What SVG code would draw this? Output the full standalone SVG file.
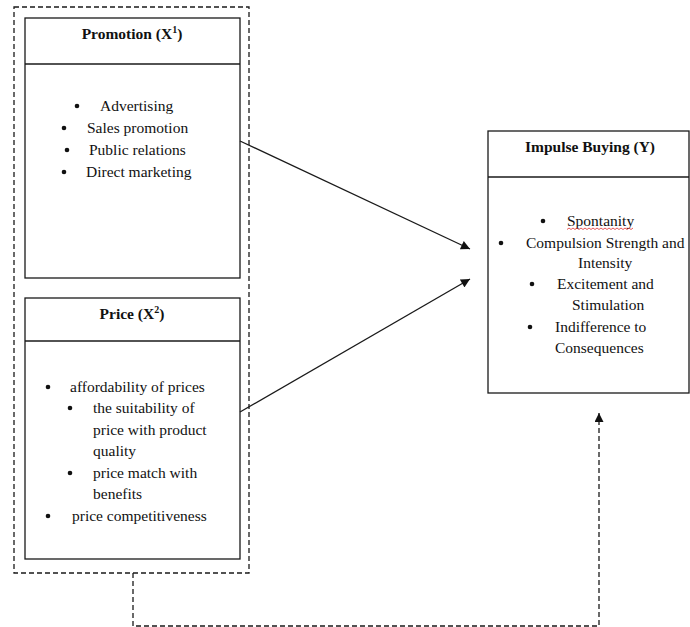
<svg xmlns="http://www.w3.org/2000/svg" width="690" height="627" viewBox="0 0 690 627">
<defs>
<style>
.box{fill:#fff;stroke:#1a1a1a;stroke-width:1.3}
.div{stroke:#1a1a1a;stroke-width:1.3}
.dash{fill:none;stroke:#1a1a1a;stroke-width:1.3;stroke-dasharray:5,3}
.t{font-family:"Liberation Serif","Times New Roman",serif;font-size:15.5px;fill:#111}
.h{font-family:"Liberation Serif","Times New Roman",serif;font-size:15.5px;font-weight:bold;fill:#111;text-anchor:middle}
.sup{font-size:10px}
.b{fill:#111}
.con{fill:none;stroke:#1a1a1a;stroke-width:1.3}
</style>
<marker id="ah" viewBox="0 0 10 10" refX="10" refY="5" markerWidth="10" markerHeight="9" markerUnits="userSpaceOnUse" orient="auto">
<path d="M0,0 L10,5 L0,10 z" fill="#111"/>
</marker>
</defs>
<rect width="690" height="627" fill="#fff"/>
<g id="group-x">
<rect x="14" y="7" width="235" height="566" class="dash"/>
</g>
<g id="promotion">
<rect x="25" y="18" width="215" height="260" class="box"/>
<line x1="25" y1="64" x2="240" y2="64" class="div"/>
<text class="h" x="132" y="39">Promotion (X<tspan class="sup" dy="-6">1</tspan><tspan dy="6">)</tspan></text>
<circle class="b" cx="77" cy="106" r="2.3"/>
<text class="t" x="100" y="111">Advertising</text>
<circle class="b" cx="64" cy="128" r="2.3"/>
<text class="t" x="87" y="133">Sales promotion</text>
<circle class="b" cx="67" cy="150" r="2.3"/>
<text class="t" x="89" y="155">Public relations</text>
<circle class="b" cx="64" cy="172" r="2.3"/>
<text class="t" x="86" y="177">Direct marketing</text>
</g>
<g id="price">
<rect x="25" y="298" width="215" height="261" class="box"/>
<line x1="25" y1="341" x2="240" y2="341" class="div"/>
<text class="h" x="132" y="319">Price (X<tspan class="sup" dy="-6">2</tspan><tspan dy="6">)</tspan></text>
<circle class="b" cx="48" cy="387" r="2.3"/>
<text class="t" x="70" y="392">affordability of prices</text>
<circle class="b" cx="70" cy="408" r="2.3"/>
<text class="t" x="93" y="413">the suitability of</text>
<text class="t" x="93" y="435">price with product</text>
<text class="t" x="93" y="456">quality</text>
<circle class="b" cx="70" cy="473" r="2.3"/>
<text class="t" x="93" y="478">price match with</text>
<text class="t" x="93" y="499">benefits</text>
<circle class="b" cx="48" cy="516" r="2.3"/>
<text class="t" x="72" y="521">price competitiveness</text>
</g>
<g id="impulse">
<rect x="488" y="131" width="201" height="262" class="box"/>
<line x1="488" y1="177" x2="689" y2="177" class="div"/>
<text class="h" x="590" y="152">Impulse Buying (Y)</text>
<circle class="b" cx="543" cy="221" r="2.3"/>
<text class="t" x="567" y="226">Spontanity</text>
<path d="M567,229.5 l2,-1.5 l2,1.5 l2,-1.5 l2,1.5 l2,-1.5 l2,1.5 l2,-1.5 l2,1.5 l2,-1.5 l2,1.5 l2,-1.5 l2,1.5 l2,-1.5 l2,1.5 l2,-1.5 l2,1.5 l2,-1.5 l2,1.5 l2,-1.5 l2,1.5 l2,-1.5 l2,1.5 l2,-1.5 l2,1.5 l2,-1.5 l2,1.5 l2,-1.5 l2,1.5 l2,-1.5 l2,1.5 l2,-1.5 l2,1.5 l2,-1.5" fill="none" stroke="#e03030" stroke-width="0.8"/>
<circle class="b" cx="501" cy="243" r="2.3"/>
<text class="t" x="526" y="248">Compulsion Strength and</text>
<text class="t" x="578" y="268">Intensity</text>
<circle class="b" cx="532" cy="284" r="2.3"/>
<text class="t" x="557" y="289">Excitement and</text>
<text class="t" x="572" y="310">Stimulation</text>
<circle class="b" cx="530" cy="327" r="2.3"/>
<text class="t" x="555" y="332">Indifference to</text>
<text class="t" x="555" y="353">Consequences</text>
</g>
<g id="connectors">
<line x1="240" y1="141" x2="470" y2="249" class="con" marker-end="url(#ah)"/>
<line x1="240" y1="412" x2="470" y2="279" class="con" marker-end="url(#ah)"/>
<polyline points="133,573 133,626 599,626 599,413" class="dash" marker-end="url(#ah)"/>
</g>
</svg>
